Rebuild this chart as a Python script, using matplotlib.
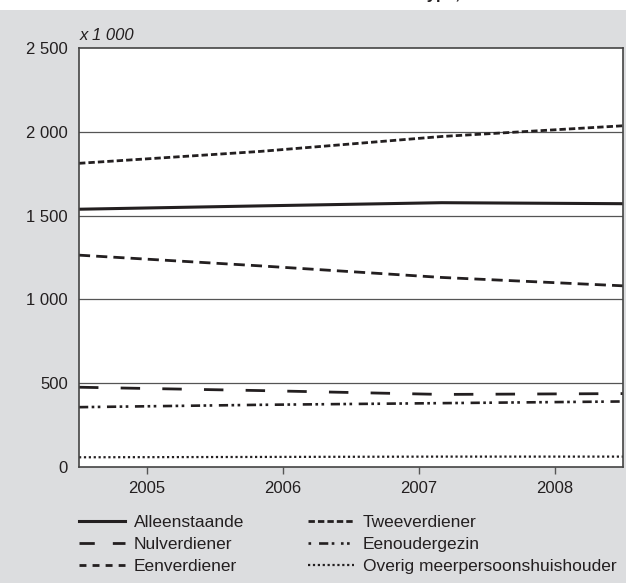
import numpy as np
import matplotlib
matplotlib.use("Agg")
import matplotlib.pyplot as plt
from matplotlib.patches import Rectangle
from matplotlib.lines import Line2D

plt.rcParams['font.family'] = ['Liberation Sans', 'DejaVu Sans']

years = ['2005', '2006', '2007', '2008']
alleenstaande = [1538, 1558, 1577, 1571]
tweeverdiener = [1812, 1883, 1972, 2036]
eenverdiener = [1264, 1200, 1131, 1081]
nulverdiener = [476, 456, 433, 438]
eenoudergezin = [357, 371, 381, 391]
overig = [58, 60, 62, 62]
yticks = [0, 500, 1000, 1500, 2000, 2500]
ytick_labels = ['0', '500', '1 000', '1 500', '2 000', '2 500']

W, H = 626, 583
fig = plt.figure(figsize=(W / 100, H / 100), dpi=100)
fig.patch.set_facecolor('white')
bg = Rectangle((0, 0), 1, (H - 10) / H, transform=fig.transFigure,
               facecolor='#dcdddf', edgecolor='none', zorder=-10)
fig.add_artist(bg)

fig.text(272 / W, 1.0 + 1 / H, 'Huishoudens naar type, 2005–2008', ha='left', va='baseline',
         fontsize=12, fontweight='bold', color='#231f20')

ax = fig.add_axes([79 / W, 1 - 467 / H, (623 - 79) / W, (467 - 48) / H])
ax.set_facecolor('white')

n = len(years)
x = np.linspace(-0.5, n - 0.5, n)
c = '#231f20'

series = [
    ('Alleenstaande', alleenstaande, dict(linestyle='-', lw=2.2)),
    ('Nulverdiener', nulverdiener, dict(linestyle=(0, (7, 8)), lw=2.0)),
    ('Eenverdiener', eenverdiener, dict(linestyle=(0, (4.0, 2.2)), lw=2.0)),
    ('Tweeverdiener', tweeverdiener, dict(linestyle=(0, (2.3, 1.1)), lw=2.0)),
    ('Eenoudergezin', eenoudergezin, dict(linestyle=(0, (3.5, 1.3, 1, 1.3, 1, 2.5)), lw=1.9)),
    ('Overig meerpersoonshuishouder', overig, dict(linestyle=(0, (1, 1.2)), lw=1.6)),
]
for name, vals, st in series:
    ax.plot(x, vals, color=c, solid_capstyle='butt', dash_capstyle='butt', **st)

for yv in yticks[1:-1]:
    ax.axhline(yv, color='#555555', lw=0.9, zorder=0.5)

ax.set_xlim(-0.5, n - 0.5)
ax.set_ylim(0, 2500)
ax.set_xticks(range(n))
ax.set_xticklabels(years)
ax.set_yticks(yticks)
ax.set_yticklabels(ytick_labels)
ax.tick_params(axis='x', direction='out', length=5, width=1, color='#555555',
               labelsize=12, labelcolor=c, pad=5)
ax.tick_params(axis='y', length=0, labelsize=12, labelcolor=c, pad=8)
for s in ax.spines.values():
    s.set_color('#444444')
    s.set_linewidth(1.2)

fig.text(80 / W, 1 - 35 / H, 'x 1 000', fontsize=12, style='italic', color=c,
         ha='left', va='center')

handles = [
    Line2D([], [], color=c, lw=2.2, linestyle='-'),
    Line2D([], [], color=c, lw=2.0, linestyle=(0, (5.5, 6.5))),
    Line2D([], [], color=c, lw=2.0, linestyle=(0, (2.5, 2.2))),
    Line2D([], [], color=c, lw=2.0, linestyle=(0, (2.3, 1.1))),
    Line2D([], [], color=c, lw=1.9, linestyle=(0, (1, 3, 3.5, 1.3, 1, 2.5, 1, 1.3))),
    Line2D([], [], color=c, lw=1.6, linestyle=(0, (1, 1.2))),
]
labels = [s[0] for s in series]
leg = fig.legend(handles, labels, ncol=2, loc='upper left',
                 bbox_to_anchor=(79 / W, 1 - 515 / H), frameon=False,
                 fontsize=12.5, handlelength=2.65, handletextpad=0.5,
                 columnspacing=3.7, labelspacing=0.4, borderaxespad=0,
                 borderpad=0)
for t in leg.get_texts():
    t.set_color(c)

fig.savefig('out.png', dpi=100, facecolor=fig.get_facecolor())
